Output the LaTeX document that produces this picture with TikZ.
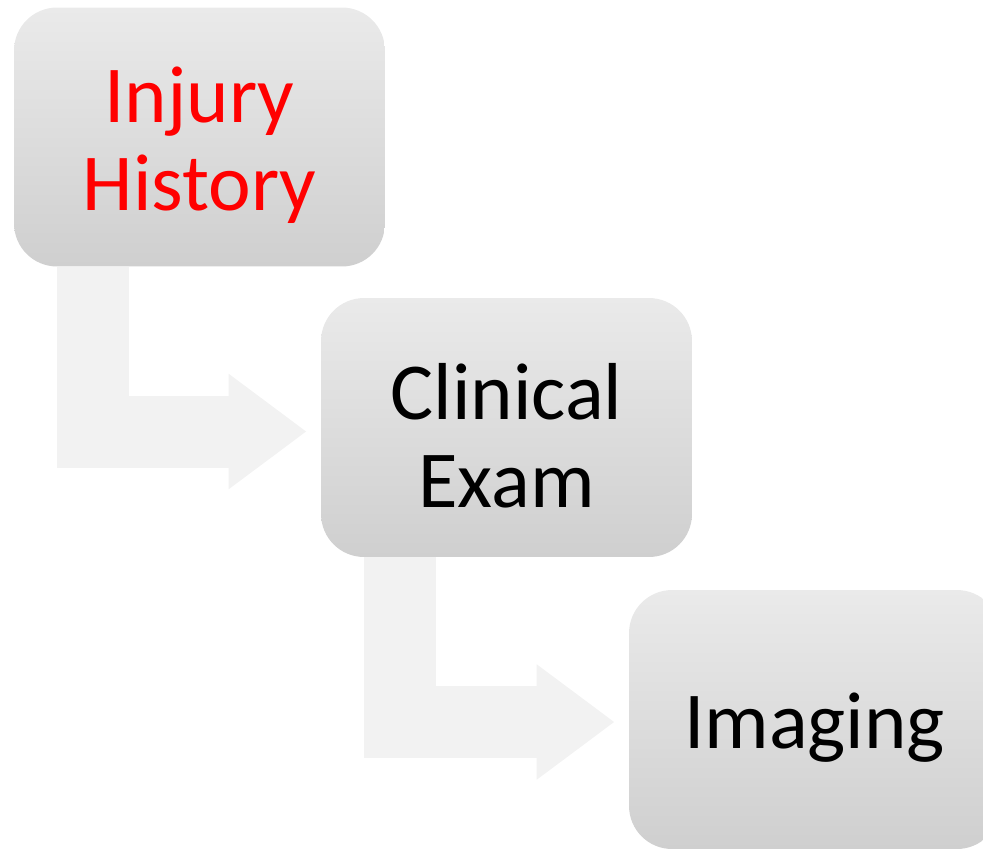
\documentclass[tikz,border=0pt]{standalone}
\usepackage{fontspec}
\setmainfont{Carlito}
\usetikzlibrary{arrows.meta}
\usetikzlibrary{calc}
\definecolor{boxtop}{RGB}{234,234,234}
\definecolor{boxbottom}{RGB}{207,207,207}
\definecolor{arrowgray}{RGB}{242,242,242}
\tikzset{
  stepbox/.style={rounded corners=0.86cm, minimum width=7.42cm, minimum height=5.18cm,
    top color=boxtop, bottom color=boxbottom, draw=none, inner sep=0pt},
  steptext/.style={align=center, inner sep=0pt, yshift=-0.16cm,
    font=\fontsize{46}{50}\selectfont},
  bentarrow/.style={draw=arrowgray, line width=1.44cm, line join=miter,
    -{Triangle[length=1.56cm,width=2.2cm]}}
}
\begin{document}
\begin{tikzpicture}[x=0.02cm,y=-0.02cm]
\useasboundingbox (0,0) rectangle (983,849);
\clip (0,0) rectangle (983,849);
\node[stepbox, label={[steptext, text=red]center:Injury\\History}] (hist) at (199.5,137) {};
\node[stepbox, label={[steptext]center:Clinical\\Exam}] (clin) at (506.5,427.5) {};
\node[stepbox, label={[steptext]center:Imaging}] (imag) at (814.5,719.5) {};
\draw[bentarrow] ($(hist.south west)+(79,0)$) |- ($(clin.west)+(-14,4)$);
\draw[bentarrow] ($(clin.south west)+(79,0)$) |- ($(imag.west)+(-14,2.5)$);
\end{tikzpicture}
\end{document}
